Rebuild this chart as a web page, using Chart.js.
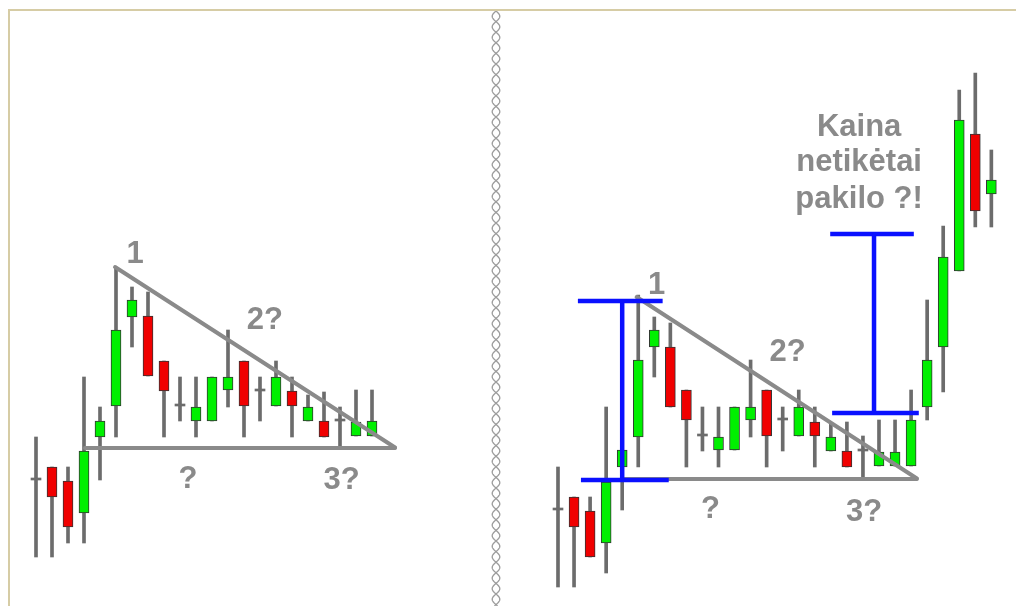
<!DOCTYPE html>
<html><head><meta charset="utf-8">
<script src="https://cdn.jsdelivr.net/npm/chart.js@4"></script>
<style>
html,body{margin:0;padding:0;background:#fff;width:1016px;height:606px;overflow:hidden}
#wrap{position:relative;width:1016px;height:606px}
canvas{position:absolute;top:0}
#cl{left:0}
#cr{left:495px}
.ft{position:absolute;left:8px;top:9px;width:1008px;height:2px;background:#d6cca5}
.fl{position:absolute;left:8px;top:9px;width:2px;height:597px;background:#d6cca5}
#dv{position:absolute;left:486px;top:11px}
</style></head>
<body>
<div id="wrap">
<canvas id="cl" width="495" height="606"></canvas>
<canvas id="cr" width="521" height="606"></canvas>
<div class="ft"></div><div class="fl"></div>
<svg id="dv" width="20" height="595"><path id="dp" fill="none" stroke="#9c9c9c" stroke-width="1.3"/></svg>
</div>
<script>
// ---- Left panel: descending triangle (22 candles) ----
const leftOpen  = [12.6,13.9,12.5,9.3,16.9,20.0,28.9,29.0,24.5,20.0,18.5,18.5,21.6,24.5,21.5,20.0,21.5,18.5,18.5,18.5,17.0,17.0];
const leftClose = [12.6,10.9,7.9,15.5,18.5,27.6,30.6,23.0,21.5,20.0,19.9,22.9,22.9,20.0,21.5,22.9,20.0,19.9,16.9,18.5,18.4,18.5];
const leftHigh  = [16.9,13.9,13.9,22.9,19.9,33.8,31.9,31.4,24.5,22.9,22.9,22.9,27.6,24.5,22.9,24.5,22.9,21.1,21.4,19.9,21.6,21.6];
const leftLow   = [4.9,4.9,6.3,6.3,12.6,16.9,25.9,23.0,16.9,18.5,16.9,18.5,19.9,16.9,18.5,20.0,16.9,18.5,16.9,15.9,17.0,17.0];

// ---- Right panel: same pattern, then unexpected breakout (28 candles) ----
const rightOpen  = [9.6,10.9,9.5,6.3,13.9,16.9,25.9,25.9,21.6,17.0,15.6,15.6,18.6,21.6,18.6,17.0,18.4,15.5,15.5,15.5,14.0,14.0,14.0,19.9,25.9,33.5,47.2,41.2];
const rightClose = [9.6,7.9,4.9,12.4,15.6,24.6,27.6,19.9,18.6,17.0,16.9,19.9,19.9,17.0,18.6,19.9,17.0,16.9,13.9,15.5,15.4,15.4,18.6,24.6,34.9,48.6,39.5,42.6];
const rightHigh  = [13.9,10.9,10.9,19.9,16.9,31.1,28.9,28.3,21.6,19.9,19.9,19.9,24.6,21.6,19.9,21.6,19.9,18.3,18.4,17.0,18.6,18.6,21.6,30.6,38.0,51.6,53.3,45.6];
const rightLow   = [1.9,1.9,4.9,3.3,9.6,13.9,22.9,19.9,13.9,15.5,13.9,15.6,16.9,13.9,15.5,17.0,13.9,15.5,13.9,12.9,14.0,14.0,14.0,18.6,21.4,33.5,37.9,37.9];

// ---- Trend lines (candle index, price) ----
const leftResistance  = [{x:4.94,y:33.9},{x:22.44,y:15.85}];
const leftSupport     = [{x:3.06,y:15.8},{x:22.44,y:15.8}];
const rightResistance = [{x:4.9,y:30.9},{x:22.36,y:12.75}];
const rightSupport    = [{x:3.98,y:12.7},{x:22.36,y:12.7}];

// ---- Height measures (blue) ----
const patternTop    = [{x:1.24,y:30.5},{x:6.52,y:30.5}];
const patternStem   = [{x:4.0,y:30.5},{x:4.0,y:12.6}];
const patternBottom = [{x:1.43,y:12.6},{x:6.9,y:12.6}];
const targetTop     = [{x:16.96,y:37.2},{x:22.17,y:37.2}];
const targetStem    = [{x:19.69,y:37.2},{x:19.69,y:19.3}];
const targetBottom  = [{x:17.08,y:19.3},{x:22.48,y:19.3}];

// ---- Text labels ----
const leftLabels = [
  {t:'1',x:6.19,y:35.2},{t:'2?',x:14.3,y:28.6},{t:'?',x:9.5,y:12.7},{t:'3?',x:19.1,y:12.6}
];
const rightLabels = [
  {t:'1',x:6.15,y:32.1},{t:'2?',x:14.3,y:25.4},{t:'?',x:9.5,y:9.7},{t:'3?',x:19.07,y:9.4},
  {t:'Kaina',x:18.76,y:47.9},{t:'netikėtai',x:18.76,y:44.4},{t:'pakilo ?!',x:18.76,y:40.7}
];

const GREEN='#00f000', RED='#f00000', WICK='#6c6c6c', EDGE='#333333', TREND='#8a8a8a', BLUE='#0a10ff';

function candleSets(o,c,h,l){
  const wicks = o.map((_,i)=>({x:i,y:[l[i],h[i]]}));
  const bodies = o.map((_,i)=>({x:i,y:[o[i],c[i]]}));
  const fill = o.map((v,i)=> c[i]>v ? GREEN : (c[i]<v ? RED : WICK));
  const bw = o.map((v,i)=> c[i]===v ? 0 : 1);
  return [
    {type:'bar',data:wicks,backgroundColor:WICK,barThickness:3,grouped:false,order:5},
    {type:'bar',data:bodies,backgroundColor:fill,borderColor:EDGE,borderWidth:bw,borderSkipped:false,
     barThickness:10,grouped:false,minBarLength:2,order:4}
  ];
}
function line(data,color,w,cap){
  return {type:'line',data,borderColor:color,borderWidth:w,pointRadius:0,fill:false,tension:0,
          borderCapStyle:cap||'round',order:color===BLUE?0:1};
}
function labelPlugin(items){
  return {id:'txt',afterDatasetsDraw(chart){
    const {ctx,scales:{x,y}}=chart;
    ctx.save();
    ctx.font='bold 31px "Liberation Sans", Arial, sans-serif';
    ctx.fillStyle='#8a8a8a';ctx.textAlign='center';ctx.textBaseline='middle';
    items.forEach(it=>ctx.fillText(it.t,x.getPixelForValue(it.x),y.getPixelForValue(it.y)));
    ctx.restore();
  }};
}
function makeChart(id,datasets,xmin,xmax,labels){
  return new Chart(document.getElementById(id),{
    type:'bar',
    data:{datasets},
    options:{
      responsive:false,animation:false,devicePixelRatio:1,
      layout:{padding:0},
      plugins:{legend:{display:false},tooltip:{enabled:false}},
      scales:{
        x:{type:'linear',min:xmin,max:xmax,offset:false,display:false},
        y:{type:'linear',min:0,max:60.6,display:false}
      }
    },
    plugins:[labelPlugin(labels)]
  });
}

makeChart('cl',[
  ...candleSets(leftOpen,leftClose,leftHigh,leftLow),
  line(leftResistance,TREND,4),line(leftSupport,TREND,4)
],-2.25,28.6875,leftLabels);

makeChart('cr',[
  ...candleSets(rightOpen,rightClose,rightHigh,rightLow),
  line(rightResistance,TREND,4),line(rightSupport,TREND,4),
  line(patternTop,BLUE,4.5,'butt'),line(patternStem,BLUE,4.5,'butt'),line(patternBottom,BLUE,4.5,'butt'),
  line(targetTop,BLUE,4.5,'butt'),line(targetStem,BLUE,4.5,'butt'),line(targetBottom,BLUE,4.5,'butt')
],-3.925,28.536,rightLabels);

// decorative chain divider
(function(){
  const P=10.6,A=3.8,cx=10;let a='',b='';
  for(let y=0;y<=595;y+=0.5){
    const s=A*Math.sin(Math.PI*y/P);
    a+=(y?'L':'M')+(cx+s).toFixed(2)+' '+y;
    b+=(y?'L':'M')+(cx-s).toFixed(2)+' '+y;
  }
  document.getElementById('dp').setAttribute('d',a+' '+b);
})();
</script>
</body></html>
